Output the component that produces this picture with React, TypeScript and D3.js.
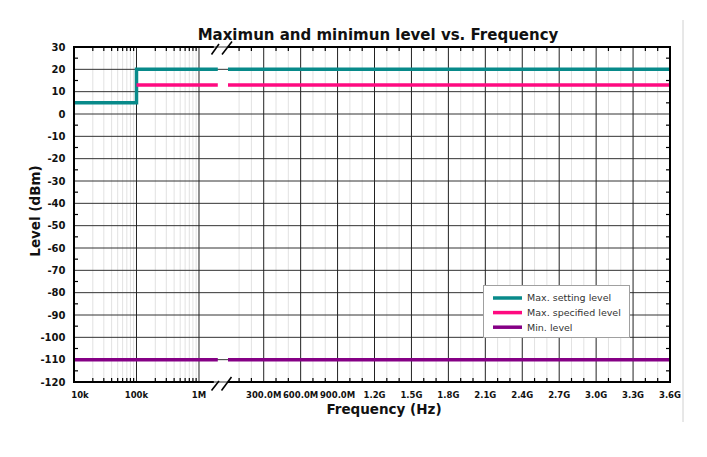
import React from 'react';
import * as d3 from 'd3';

// level steps: each level holds from freq[i] up to freq[i+1]
const settingFreq = [1e4, 1e5, 3.6e9];
const settingLevel = [5, 20, 20];
const specFreq = [1e5, 3.6e9];
const specLevel = [13, 13];
const minFreq = [1e4, 3.6e9];
const minLevel = [-110, -110];

const series = [
  { name: 'Max. setting level', freq: settingFreq, level: settingLevel, color: '#088a8a' },
  { name: 'Max. specified level', freq: specFreq, level: specLevel, color: '#ff0a80' },
  { name: 'Min. level', freq: minFreq, level: minLevel, color: '#850085' },
];

const logTicks = [1e4, 1e5, 1e6];
const logTickLabels = ['10k', '100k', '1M'];
const linTicks = [3e8, 6e8, 9e8, 1.2e9, 1.5e9, 1.8e9, 2.1e9, 2.4e9, 2.7e9, 3.0e9, 3.3e9, 3.6e9];
const linTickLabels = ['300.0M', '600.0M', '900.0M', '1.2G', '1.5G', '1.8G', '2.1G', '2.4G', '2.7G', '3.0G', '3.3G', '3.6G'];
const yTicks = [30, 20, 10, 0, -10, -20, -30, -40, -50, -60, -70, -80, -90, -100, -110, -120];

const W = 707;
const H = 457;
const L = 74;
const R = 670;
const T = 47;
const B = 382;
const gapL = 217.8;
const gapR = 228;

const xLog = d3.scaleLog().domain([1e4, 2e6]).range([L, gapL]);
const xLin = d3.scaleLinear().domain([1e7, 3.6e9]).range([gapR, R]);
const y = d3.scaleLinear().domain([-120, 30]).range([B, T]);

const font = '"DejaVu Sans", Verdana, sans-serif';

function panelPath(freq: number[], level: number[], scale: (v: number) => number, lo: number, hi: number) {
  const pts: [number, number][] = [];
  for (let i = 0; i < freq.length - 1; i++) {
    const a = Math.max(freq[i], lo);
    const b = Math.min(freq[i + 1], hi);
    if (a >= b) continue;
    pts.push([scale(a), y(level[i])]);
    if (i === freq.length - 2 || freq[i + 1] >= hi) pts.push([scale(b), y(level[i])]);
  }
  if (pts.length < 2) return null;
  return d3.line().curve(d3.curveStepAfter)(pts);
}

const App: React.FC = () => {
  // minor grid positions
  const logMinor: number[] = [];
  for (let d = 1e4; d < 2e6; d *= 10) {
    for (let k = 2; k <= 9; k++) if (d * k < 2e6) logMinor.push(d * k);
  }
  const linMinor = d3.range(1e8, 3.6e9, 1e8).filter(f => Math.round(f / 1e8) % 3 !== 0);
  const yMinor = d3.range(-115, 30, 10);

  return (
    <svg width={W} height={H} style={{ position: 'absolute', left: 0, top: 0, background: '#fff' }}>
      <line x1={683} x2={683} y1={20} y2={422} stroke="#d0d0d0" />
      <text x={378} y={40} textAnchor="middle" fontFamily={font} fontWeight="bold" fontSize={15} fill="#111">
        Maximun and minimun level vs. Frequency
      </text>

      {/* minor vertical grid */}
      {logMinor.map(f => (
        <line key={'lm' + f} x1={xLog(f)} x2={xLog(f)} y1={T} y2={B} stroke="#e2e2e2" />
      ))}
      {linMinor.map(f => (
        <line key={'nm' + f} x1={xLin(f)} x2={xLin(f)} y1={T} y2={B} stroke="#e2e2e2" />
      ))}
      {/* major grid */}
      {yTicks.map(v => (
        <line key={'hy' + v} x1={L} x2={R} y1={y(v)} y2={y(v)} stroke="#333" strokeWidth={1} />
      ))}
      {logTicks.map(f => (
        <line key={'lv' + f} x1={xLog(f)} x2={xLog(f)} y1={T} y2={B} stroke="#222" />
      ))}
      {linTicks.map(f => (
        <line key={'nv' + f} x1={xLin(f)} x2={xLin(f)} y1={T} y2={B} stroke="#222" />
      ))}

      {/* ticks */}
      {logMinor.map(f => (
        <g key={'lt' + f} stroke="#000" strokeWidth={1.2}>
          <line x1={xLog(f)} x2={xLog(f)} y1={B} y2={B - 4} />
          <line x1={xLog(f)} x2={xLog(f)} y1={T} y2={T + 4} />
        </g>
      ))}
      {linMinor.map(f => (
        <g key={'nt' + f} stroke="#000" strokeWidth={1.2}>
          <line x1={xLin(f)} x2={xLin(f)} y1={B} y2={B - 4} />
          <line x1={xLin(f)} x2={xLin(f)} y1={T} y2={T + 4} />
        </g>
      ))}
      {yMinor.map(v => (
        <g key={'yt' + v} stroke="#000" strokeWidth={1.2}>
          <line x1={L} x2={L + 4} y1={y(v)} y2={y(v)} />
          <line x1={R} x2={R - 4} y1={y(v)} y2={y(v)} />
        </g>
      ))}

      {/* series */}
      {series.map(s => (
        <g key={s.name} fill="none" stroke={s.color} strokeWidth={3.5}>
          <path d={panelPath(s.freq, s.level, xLog, 1e4, 2e6) || ''} />
          <path d={panelPath(s.freq, s.level, xLin, 1e7, 3.6e9) || ''} />
        </g>
      ))}

      {/* frame with axis break */}
      <g stroke="#000" strokeWidth={2} fill="none">
        <line x1={L} x2={L} y1={T - 1} y2={B + 1} />
        <line x1={R} x2={R} y1={T - 1} y2={B + 1} />
        <line x1={L} x2={gapL - 4} y1={T} y2={T} />
        <line x1={gapR} x2={R} y1={T} y2={T} />
        <line x1={L} x2={gapL - 4} y1={B} y2={B} />
        <line x1={gapR} x2={R} y1={B} y2={B} />
      </g>
      <g stroke="#000" strokeWidth={1.6}>
        <line x1={211.5} y1={54.5} x2={219} y2={44} />
        <line x1={222} y1={54.5} x2={232} y2={41.5} />
        <line x1={211.5} y1={390.5} x2={219} y2={381} />
        <line x1={221.5} y1={390.5} x2={231.5} y2={377} />
      </g>

      {/* y labels */}
      {yTicks.map(v => (
        <text key={'yl' + v} x={65.5} y={y(v)} dy="0.35em" textAnchor="end" fontFamily={font} fontWeight="bold" fontSize={10} fill="#111">
          {v}
        </text>
      ))}
      {/* x labels */}
      {logTicks.map((f, i) => (
        <text key={'xl' + f} x={i === 0 ? xLog(f) + 6 : xLog(f)} y={398} textAnchor="middle" fontFamily={font} fontWeight="bold" fontSize={8.5} fill="#111">
          {logTickLabels[i]}
        </text>
      ))}
      {linTicks.map((f, i) => (
        <text key={'xn' + f} x={xLin(f)} y={398} textAnchor="middle" fontFamily={font} fontWeight="bold" fontSize={8.5} fill="#111">
          {linTickLabels[i]}
        </text>
      ))}

      <text x={384} y={414} textAnchor="middle" fontFamily={font} fontWeight="bold" fontSize={13.5} fill="#111">
        Frequency (Hz)
      </text>
      <text transform="translate(40,211) rotate(-90)" textAnchor="middle" fontFamily={font} fontWeight="bold" fontSize={13.5} fill="#111">
        Level (dBm)
      </text>

      {/* legend */}
      <g>
        <rect x={483.5} y={285.5} width={146} height={52} fill="#fff" stroke="#a0a0a0" />
        {series.map((s, i) => (
          <g key={'lg' + s.name}>
            <line x1={493} x2={522} y1={298 + i * 14.6} y2={298 + i * 14.6} stroke={s.color} strokeWidth={3.5} />
            <text x={527} y={298 + i * 14.6} dy="0.35em" fontFamily={font} fontSize={9.5} fill="#333">
              {s.name}
            </text>
          </g>
        ))}
      </g>
    </svg>
  );
};

export default App;
